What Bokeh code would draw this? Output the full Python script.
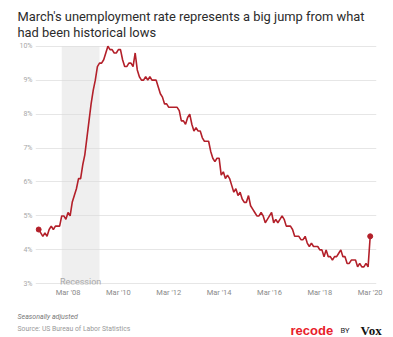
from bokeh.plotting import figure
from bokeh.layouts import column
from bokeh.models import (Range1d, FixedTicker, PrintfTickFormatter, BoxAnnotation, Label)
from bokeh.embed import file_html
from bokeh.resources import INLINE

# Monthly unemployment rate (%), seasonally adjusted, Jan 2007 - Mar 2020
rates = [
    4.6, 4.5, 4.4, 4.5, 4.4, 4.6, 4.7, 4.6, 4.7, 4.7, 4.7, 5.0,   # 2007
    5.0, 4.9, 5.1, 5.0, 5.4, 5.6, 5.8, 6.1, 6.1, 6.5, 6.8, 7.3,   # 2008
    7.8, 8.3, 8.7, 9.0, 9.4, 9.5, 9.5, 9.6, 9.8, 10.0, 9.9, 9.9,  # 2009
    9.8, 9.8, 9.9, 9.9, 9.6, 9.4, 9.4, 9.5, 9.5, 9.4, 9.8, 9.3,   # 2010
    9.1, 9.0, 9.0, 9.1, 9.0, 9.1, 9.0, 9.0, 9.0, 8.8, 8.6, 8.5,   # 2011
    8.3, 8.3, 8.2, 8.2, 8.2, 8.2, 8.2, 8.1, 7.8, 7.8, 7.7, 7.9,   # 2012
    8.0, 7.7, 7.5, 7.6, 7.5, 7.5, 7.3, 7.2, 7.2, 7.2, 6.9, 6.7,   # 2013
    6.6, 6.7, 6.7, 6.2, 6.3, 6.1, 6.2, 6.1, 5.9, 5.7, 5.8, 5.6,   # 2014
    5.7, 5.5, 5.4, 5.4, 5.6, 5.3, 5.2, 5.1, 5.0, 5.0, 5.1, 5.0,   # 2015
    4.8, 4.9, 5.0, 5.1, 4.8, 4.9, 4.8, 4.9, 5.0, 4.9, 4.7, 4.7,   # 2016
    4.7, 4.6, 4.4, 4.4, 4.4, 4.3, 4.3, 4.4, 4.2, 4.1, 4.2, 4.1,   # 2017
    4.1, 4.1, 4.0, 4.0, 3.8, 4.0, 3.8, 3.8, 3.7, 3.8, 3.8, 3.9,   # 2018
    4.0, 3.8, 3.8, 3.6, 3.6, 3.7, 3.7, 3.7, 3.5, 3.6, 3.5, 3.5,   # 2019
    3.6, 3.5, 4.4,                                                # 2020
]
months = list(range(len(rates)))  # month index, 0 = Jan 2007

x_tick_positions = [14, 38, 62, 86, 110, 134, 158]
x_tick_labels = ["Mar '08", "Mar '10", "Mar '12", "Mar '14", "Mar '16", "Mar '18", "Mar '20"]
y_ticks = [3, 4, 5, 6, 7, 8, 9, 10]

recession_start = 11   # Dec 2007
recession_end = 29     # Jun 2009

title_lines = ["March's unemployment rate represents a big jump from what",
               "had been historical lows"]
note_text = "Seasonally adjusted"
source_text = "Source: US Bureau of Labor Statistics"

FONT = "Roboto"
RED = "#b3202a"
W = 393


def blank(height):
    f = figure(width=W, height=height, output_backend="svg", toolbar_location=None,
               x_axis_type=None, y_axis_type=None, min_border=0, frame_align=False,
               x_range=Range1d(0, 1), y_range=Range1d(0, 1))
    f.outline_line_color = None
    f.xgrid.visible = False
    f.ygrid.visible = False
    return f


# ---- header (title) ----
HEAD_H = 41
head = blank(HEAD_H)
for text, base in zip(title_lines, [16, 32]):
    head.add_layout(Label(x=17, y=HEAD_H - base, x_units="screen", y_units="screen", text=text,
                          text_font=FONT, text_font_size="12.9px", text_color="#2b2b2b",
                          text_baseline="alphabetic"))

# ---- main chart ----
MAIN_H = 258
p = figure(width=W, height=MAIN_H, output_backend="svg", toolbar_location=None,
           x_range=Range1d(-1.5, 161), y_range=Range1d(2.98, 10.05), frame_align=False,
           min_border_left=35, min_border_right=17, min_border_top=3, min_border_bottom=13)
p.outline_line_color = None

p.xaxis.ticker = FixedTicker(ticks=x_tick_positions)
p.xaxis.major_label_overrides = {t: l for t, l in zip(x_tick_positions, x_tick_labels)}
p.yaxis.ticker = FixedTicker(ticks=y_ticks)
p.yaxis.formatter = PrintfTickFormatter(format="%d%%")
for ax in (p.xaxis, p.yaxis):
    ax.axis_line_color = None
    ax.major_tick_line_color = None
    ax.minor_tick_line_color = None
    ax.major_tick_out = 0
    ax.major_tick_in = 0
    ax.minor_tick_out = 0
    ax.minor_tick_in = 0
    ax.major_label_text_font = FONT
p.xaxis.major_label_text_font_size = "7.5px"
p.xaxis.major_label_text_color = "#8a8a8a"
p.xaxis.major_label_standoff = 3
p.yaxis.major_label_text_font_size = "7px"
p.yaxis.major_label_text_color = "#a8a8a8"
p.yaxis.major_label_standoff = 3

p.xgrid.grid_line_color = None
p.ygrid.grid_line_color = "#e6e6e6"
p.ygrid.grid_line_width = 1

box = BoxAnnotation(left=recession_start, right=recession_end, top=10, bottom=3,
                    fill_color="#dcdcdc", fill_alpha=0.45, line_color=None, level="underlay")
p.add_layout(box)
p.add_layout(Label(x=(recession_start + recession_end) / 2, y=3, y_units="screen",
                   text="Recession", text_align="center", text_baseline="alphabetic",
                   text_font=FONT, text_font_size="9px", text_color="#a8a8a8"))

p.line(months, rates, line_color=RED, line_width=1.6)
p.scatter([months[0], months[-1]], [rates[0], rates[-1]], size=5, color=RED)

# ---- footer ----
FOOT_H = 337 - HEAD_H - MAIN_H
foot = blank(FOOT_H)
TOP = HEAD_H + MAIN_H  # canvas y of footer top


def fy(canvas_y):
    return FOOT_H - (canvas_y - TOP)


foot.add_layout(Label(x=17, y=fy(316), x_units="screen", y_units="screen", text=note_text,
                      text_font=FONT, text_font_size="7px", text_font_style="italic",
                      text_color="#777777", text_baseline="alphabetic"))
foot.add_layout(Label(x=17, y=fy(328), x_units="screen", y_units="screen", text=source_text,
                      text_font=FONT, text_font_size="6.8px", text_color="#999999",
                      text_baseline="alphabetic"))
foot.add_layout(Label(x=290, y=fy(330), x_units="screen", y_units="screen", text="recode",
                      text_font="Liberation Sans", text_font_size="13px", text_font_style="bold",
                      text_color="#e8202a", text_baseline="alphabetic"))
foot.add_layout(Label(x=340, y=fy(330), x_units="screen", y_units="screen", text="BY",
                      text_font=FONT, text_font_size="7.5px", text_color="#222222",
                      text_baseline="alphabetic"))
foot.add_layout(Label(x=360, y=fy(330), x_units="screen", y_units="screen", text="Vox",
                      text_font="Liberation Serif", text_font_size="13px", text_font_style="bold",
                      text_color="#111111", text_baseline="alphabetic"))

layout = column(head, p, foot, spacing=0)
open("out.html", "w").write(file_html(layout, INLINE))
